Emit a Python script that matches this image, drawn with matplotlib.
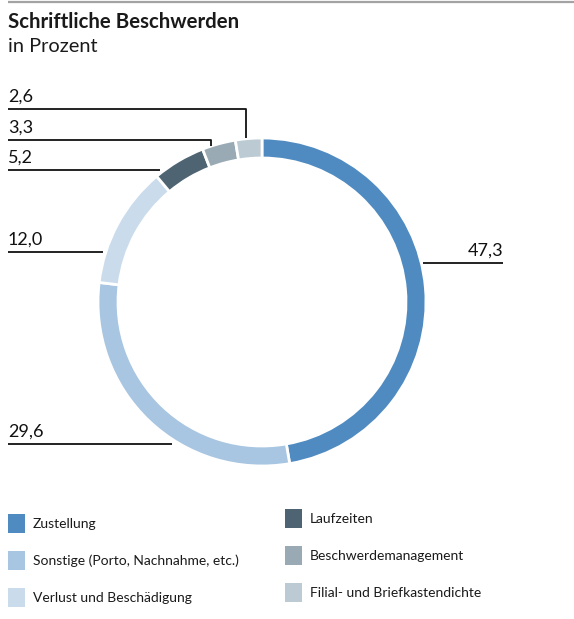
import matplotlib
matplotlib.use("Agg")
import matplotlib.pyplot as plt
from matplotlib.patches import Rectangle

# Complaint categories and shares (percent)
categories = [
    "Zustellung",
    "Sonstige (Porto, Nachnahme, etc.)",
    "Verlust und Beschädigung",
    "Laufzeiten",
    "Beschwerdemanagement",
    "Filial- und Briefkastendichte",
]
shares = [47.3, 29.6, 12.0, 5.2, 3.3, 2.6]
colors = ["#4f8bc1", "#a8c6e1", "#cadcec", "#4e6472", "#9aaab5", "#bccad3"]

title = "Schriftliche Beschwerden"
subtitle = "in Prozent"

FONT = "Lato"
W, H = 574, 619

fig = plt.figure(figsize=(W / 100, H / 100), dpi=100)
ax = fig.add_axes([0, 0, 1, 1])

# Donut, starting at 12 o'clock and running clockwise (y axis is inverted below)
cx, cy, r = 262, 302, 164
wedges, _ = ax.pie(
    shares,
    colors=colors,
    startangle=-90,
    counterclock=True,
    radius=r,
    center=(cx, cy),
    wedgeprops=dict(width=20, edgecolor="white", linewidth=2.0),
    frame=True,
)
ax.set_xlim(0, W)
ax.set_ylim(H, 0)
ax.set_aspect("equal")
ax.set_axis_off()

# Top rule
ax.plot([8, W], [2, 2], color="#a3a3a3", lw=1.6, solid_capstyle="butt")

# Title
ax.text(8, 22, title, fontsize=14.7, fontweight="bold", family=FONT,
        va="center", ha="left", color="#1a1a1a")
ax.text(8, 46, subtitle, fontsize=14.4, family=FONT,
        va="center", ha="left", color="#1a1a1a")


def fmt(v):
    return f"{v:.1f}".replace(".", ",")


line_kw = dict(color="#111111", lw=1.3, solid_capstyle="butt")
lab_kw = dict(fontsize=13, family=FONT, color="#111111", va="bottom")

# Leader lines and value labels: (line points, text x, text y, alignment)
leaders = {
    0: ([(423, 263), (503, 263)], 503, 259, "right"),
    1: ([(8, 444), (172, 444)], 8, 440, "left"),
    2: ([(8, 252), (103, 252)], 8, 248, "left"),
    3: ([(8, 170), (160, 170)], 8, 166, "left"),
    4: ([(8, 140), (211, 140), (211, 146)], 8, 136, "left"),
    5: ([(8, 109), (246, 109), (246, 138)], 8, 105, "left"),
}
for i, (pts, tx, ty, ha) in leaders.items():
    xs, ys = zip(*pts)
    ax.plot(xs, ys, **line_kw)
    ax.text(tx, ty, fmt(shares[i]), ha=ha, **lab_kw)

# Legend (two columns)
legend_pos = [(8, 514), (8, 551), (8, 588), (285, 509), (285, 546), (285, 583)]
for (lx, ly), name, col in zip(legend_pos, categories, colors):
    ax.add_patch(Rectangle((lx, ly), 17, 19, facecolor=col, edgecolor="none"))
    ax.text(lx + 25, ly + 10, name, fontsize=10, family=FONT,
            va="center", ha="left", color="#1a1a1a")

fig.savefig("out.png", dpi=100)
